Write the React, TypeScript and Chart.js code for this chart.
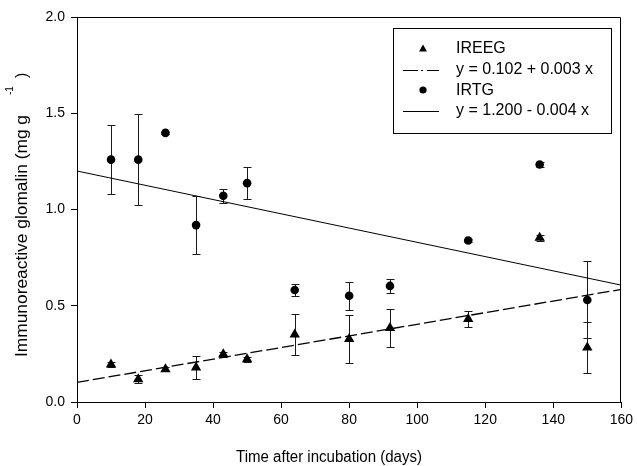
import React, { useEffect, useRef } from 'react';
import { Chart, registerables } from 'chart.js';

Chart.register(...registerables);

const FONT = '"Liberation Sans", Arial, Helvetica, sans-serif';

// Days after incubation
const days = [10, 18, 26, 35, 43, 50, 64, 80, 92, 115, 136, 150];
// IREEG (triangles)
const ireeg = [0.195, 0.118, 0.17, 0.179, 0.248, 0.222, 0.351, 0.327, 0.384, 0.431, 0.853, 0.283];
const ireegErr = [0.012, 0.02, 0.01, 0.062, 0.012, 0.012, 0.107, 0.125, 0.1, 0.04, 0.015, 0.13];
// IRTG (circles)
const irtg = [1.259, 1.259, 1.398, 0.919, 1.071, 1.137, 0.582, 0.552, 0.603, 0.839, 1.234, 0.53];
const irtgErr = [0.18, 0.235, 0.005, 0.15, 0.035, 0.085, 0.03, 0.073, 0.035, 0.01, 0.015, 0.2];
// Regression line end points
const fitX = [0, 160];
const ireegFit = [0.102, 0.585];
const irtgFit = [1.2, 0.607];

const legendLabels = ['IREEG', 'y = 0.102 + 0.003 x', 'IRTG', 'y = 1.200 - 0.004 x'];
const xTitle = 'Time after incubation (days)';
const yTitleMain = 'Immunoreactive glomalin (mg g';
const yTitleSup = '-1';
const yTitleEnd = ')';

const DASH = [12, 4];

const errorBarsPlugin = {
  id: 'errorBars',
  beforeDatasetsDraw(chart: any) {
    const { ctx, scales } = chart;
    const x = scales.x;
    const y = scales.y;
    ctx.save();
    ctx.strokeStyle = '#1a1a1a';
    ctx.lineWidth = 1;
    const sets: [number[], number[]][] = [
      [ireeg, ireegErr],
      [irtg, irtgErr],
    ];
    sets.forEach(([vals, errs]) => {
      days.forEach((d, i) => {
        const px = Math.round(x.getPixelForValue(d)) + 0.5;
        const top = Math.round(y.getPixelForValue(vals[i] + errs[i])) + 0.5;
        const bot = Math.round(y.getPixelForValue(vals[i] - errs[i])) + 0.5;
        ctx.beginPath();
        ctx.moveTo(px, top);
        ctx.lineTo(px, bot);
        ctx.moveTo(px - 4, top);
        ctx.lineTo(px + 4, top);
        ctx.moveTo(px - 4, bot);
        ctx.lineTo(px + 4, bot);
        ctx.stroke();
      });
    });
    ctx.restore();
  },
};

const framePlugin = {
  id: 'frame',
  afterDraw(chart: any) {
    const { ctx, chartArea } = chart;
    ctx.save();
    ctx.strokeStyle = '#000';
    ctx.lineWidth = 1;
    ctx.beginPath();
    const l = Math.round(chartArea.left) + 0.5;
    const r = Math.round(chartArea.right) - 0.5;
    const t = Math.round(chartArea.top) + 0.5;
    const b = Math.round(chartArea.bottom);
    ctx.moveTo(l, t);
    ctx.lineTo(r, t);
    ctx.lineTo(r, b);
    ctx.stroke();
    ctx.restore();
  },
};

const titlesPlugin = {
  id: 'axisTitles',
  afterDraw(chart: any) {
    const { ctx } = chart;
    ctx.save();
    ctx.fillStyle = '#000';
    ctx.textAlign = 'left';
    ctx.textBaseline = 'alphabetic';
    // x title
    ctx.font = `16px ${FONT}`;
    const wx = ctx.measureText(xTitle).width;
    ctx.save();
    ctx.translate(236, 462);
    ctx.scale(186 / wx, 1);
    ctx.fillText(xTitle, 0, 0);
    ctx.restore();
    // y title
    ctx.translate(27, 357);
    ctx.rotate(-Math.PI / 2);
    ctx.font = `16px ${FONT}`;
    const w = ctx.measureText(yTitleMain).width;
    ctx.save();
    ctx.scale(242 / w, 1);
    ctx.fillText(yTitleMain, 0, 0);
    ctx.restore();
    ctx.font = `10px ${FONT}`;
    ctx.fillText(yTitleSup, 262, -14);
    ctx.font = `16px ${FONT}`;
    ctx.fillText(yTitleEnd, 279, 0);
    ctx.restore();
  },
};

const legendPlugin = {
  id: 'customLegend',
  afterDraw(chart: any) {
    const { ctx } = chart;
    ctx.save();
    ctx.strokeStyle = '#000';
    ctx.lineWidth = 1;
    ctx.strokeRect(393.5, 28.5, 218, 105);
    const rows = [48.5, 69.5, 90, 110.5];
    const symX = 423;
    ctx.fillStyle = '#000';
    // triangle
    ctx.beginPath();
    ctx.moveTo(symX, rows[0] - 4);
    ctx.lineTo(symX + 4, rows[0] + 3);
    ctx.lineTo(symX - 4, rows[0] + 3);
    ctx.closePath();
    ctx.fill();
    // dashed line
    ctx.beginPath();
    ctx.lineWidth = 1.2;
    ctx.setLineDash([15, 3, 2, 4]);
    ctx.moveTo(403, Math.round(rows[1]) + 0.5);
    ctx.lineTo(439, Math.round(rows[1]) + 0.5);
    ctx.stroke();
    ctx.setLineDash([]);
    // circle
    ctx.beginPath();
    ctx.arc(symX, rows[2], 3.6, 0, Math.PI * 2);
    ctx.fill();
    // solid line
    ctx.beginPath();
    ctx.lineWidth = 1;
    ctx.moveTo(403, Math.round(rows[3]) + 0.5);
    ctx.lineTo(439, Math.round(rows[3]) + 0.5);
    ctx.stroke();
    ctx.font = `16px ${FONT}`;
    ctx.textAlign = 'left';
    ctx.textBaseline = 'middle';
    legendLabels.forEach((t, i) => {
      ctx.fillText(t, 456, rows[i] + 0.5);
    });
    ctx.restore();
  },
};

export default function App() {
  const ref = useRef<HTMLCanvasElement | null>(null);

  useEffect(() => {
    if (!ref.current) return;
    const tickFont = { family: FONT, size: 14 };
    const chart = new Chart(ref.current, {
      type: 'scatter',
      data: {
        datasets: [
          {
            label: 'IREEG',
            data: days.map((d, i) => ({ x: d, y: ireeg[i] })),
            pointStyle: 'triangle',
            pointRadius: 6,
            backgroundColor: '#000',
            borderColor: '#000',
            borderWidth: 0,
            showLine: false,
          },
          {
            label: 'IRTG',
            data: days.map((d, i) => ({ x: d, y: irtg[i] })),
            pointStyle: 'circle',
            pointRadius: 4.3,
            backgroundColor: '#000',
            borderColor: '#000',
            borderWidth: 0,
            showLine: false,
          },
          {
            label: 'IREEG fit',
            data: fitX.map((d, i) => ({ x: d, y: ireegFit[i] })),
            showLine: true,
            pointRadius: 0,
            borderColor: '#000',
            borderWidth: 1.3,
            borderDash: DASH,
            fill: false,
          },
          {
            label: 'IRTG fit',
            data: fitX.map((d, i) => ({ x: d, y: irtgFit[i] })),
            showLine: true,
            pointRadius: 0,
            borderColor: '#000',
            borderWidth: 1,
            fill: false,
          },
        ],
      },
      options: {
        animation: false,
        responsive: false,
        events: [],
        layout: { padding: { left: 0, right: 12, top: 17, bottom: 0 } },
        plugins: { legend: { display: false }, tooltip: { enabled: false } },
        scales: {
          x: {
            type: 'linear',
            min: 0,
            max: 160,
            ticks: { stepSize: 20, color: '#000', font: tickFont, padding: 4, maxRotation: 0 },
            grid: { drawOnChartArea: false, drawTicks: true, tickLength: 6, color: '#000' },
            border: { display: true, color: '#000', width: 1 },
            afterFit(s: any) {
              s.height = 64;
            },
          },
          y: {
            type: 'linear',
            min: 0,
            max: 2,
            ticks: {
              stepSize: 0.5,
              color: '#000',
              font: tickFont,
              padding: 6,
              callback: (v: any) => Number(v).toFixed(1),
            },
            grid: { drawOnChartArea: false, drawTicks: true, tickLength: 6, color: '#000' },
            border: { display: true, color: '#000', width: 1 },
            afterFit(s: any) {
              s.width = 77;
            },
          },
        },
      },
      plugins: [errorBarsPlugin, framePlugin, titlesPlugin, legendPlugin],
    } as any);
    return () => chart.destroy();
  }, []);

  return (
    <div style={{ position: 'absolute', left: 0, top: 0, width: 637, height: 466, background: '#fff' }}>
      <canvas ref={ref} width={637} height={466} style={{ display: 'block' }} />
    </div>
  );
}
